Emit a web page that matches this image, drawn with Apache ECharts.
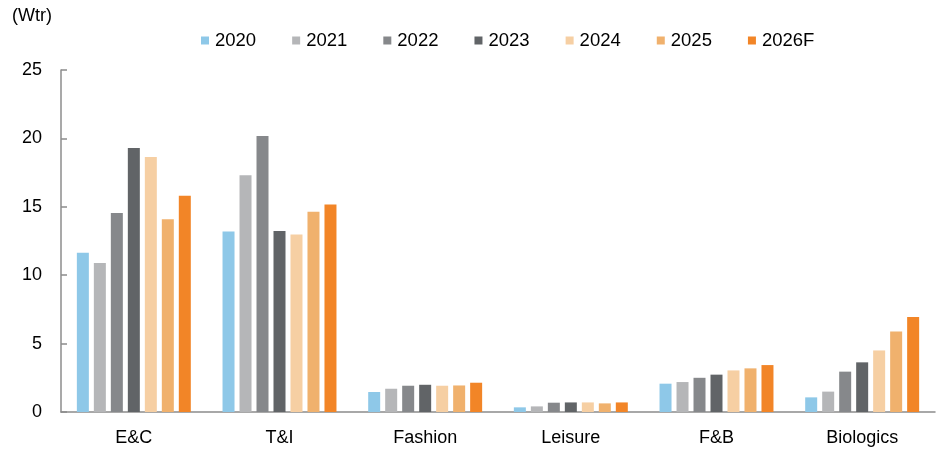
<!DOCTYPE html>
<html><head><meta charset="utf-8">
<script src="https://cdn.jsdelivr.net/npm/echarts@6/dist/echarts.min.js"></script>
<style>html,body{margin:0;padding:0;background:#fff}#c{width:938px;height:450px}</style>
</head><body><div id="c"></div>
<script>
const categories = ['E&C', 'T&I', 'Fashion', 'Leisure', 'F&B', 'Biologics'];
const seriesNames = ['2020', '2021', '2022', '2023', '2024', '2025', '2026F'];
const v2020  = [11.65, 13.2, 1.46, 0.34, 2.07, 1.07];
const v2021  = [10.9, 17.3, 1.70, 0.41, 2.19, 1.49];
const v2022  = [14.55, 20.17, 1.92, 0.68, 2.50, 2.95];
const v2023  = [19.3, 13.24, 1.99, 0.70, 2.73, 3.63];
const v2024  = [18.64, 12.97, 1.92, 0.70, 3.04, 4.50];
const v2025  = [14.09, 14.63, 1.94, 0.63, 3.19, 5.89];
const v2026F = [15.8, 15.16, 2.14, 0.70, 3.43, 6.94];
const yTicks = [0, 5, 10, 15, 20, 25];
const unitLabel = '(Wtr)';

const values = [v2020, v2021, v2022, v2023, v2024, v2025, v2026F];
const colors = ['#8EC8E8', '#B5B6B8', '#86888B', '#616467', '#F6CFA3', '#F0B16D', '#F28527'];
const font = '"Liberation Sans", Arial, sans-serif';

const chart = echarts.init(document.getElementById('c'), null, {renderer: 'canvas'});
chart.setOption({
  animation: false,
  textStyle: {fontFamily: font},
  graphic: [{type: 'text', left: 12, top: 7, style: {text: unitLabel, font: '18px ' + font, fill: '#000'}}],
  legend: {
    top: 26, left: 196,
    itemWidth: 8, itemHeight: 8, itemGap: 36,
    icon: 'rect',
    textStyle: {fontSize: 18.5, color: '#000', fontFamily: font, padding: [0, 0, 0, 1]},
    data: seriesNames
  },
  grid: {left: 61, right: 3, top: 70, bottom: 38, containLabel: false},
  xAxis: {
    type: 'category', data: categories,
    axisLine: {lineStyle: {color: '#8c8c8c', width: 1.5}},
    axisTick: {inside: true, length: 6, lineStyle: {color: '#8c8c8c', width: 1.5}},
    axisLabel: {fontSize: 18, color: '#000', margin: 17, fontFamily: font}
  },
  yAxis: {
    type: 'value', min: yTicks[0], max: yTicks[yTicks.length - 1], interval: 5,
    axisLine: {show: true, lineStyle: {color: '#8c8c8c', width: 1.5}},
    axisTick: {show: true, inside: true, length: 6, lineStyle: {color: '#8c8c8c', width: 1.5}},
    splitLine: {show: false},
    axisLabel: {fontSize: 18, color: '#000', margin: 19, fontFamily: font}
  },
  series: seriesNames.map((n, i) => ({
    name: n, type: 'bar', data: values[i],
    barWidth: 12, barGap: '41.6%',
    itemStyle: {color: colors[i]}
  }))
});
</script></body></html>
